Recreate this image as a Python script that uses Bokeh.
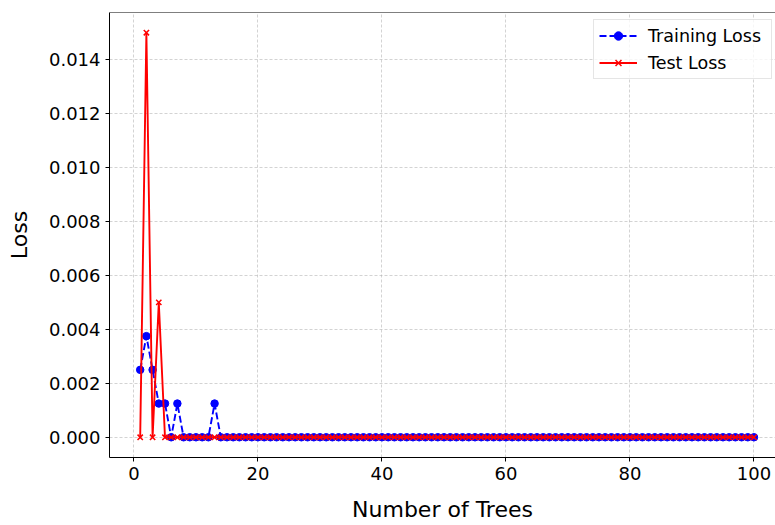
from bokeh.plotting import figure
from bokeh.models import (Range1d, FixedTicker, NumeralTickFormatter, Legend, LegendItem, Span)
from bokeh.embed import file_html
from bokeh.resources import INLINE

# ---- data ----
n_trees = list(range(1, 101))
train_loss = [0.0025, 0.00375, 0.0025, 0.00125, 0.00125, 0.0, 0.00125, 0.0, 0.0, 0.0,
              0.0, 0.0, 0.00125] + [0.0] * 87
test_loss = [0.0, 0.015, 0.0, 0.005, 0.0] + [0.0] * 95
x_ticks = [0, 20, 40, 60, 80, 100]
y_ticks = [0.0, 0.002, 0.004, 0.006, 0.008, 0.010, 0.012, 0.014]

FONT = "DejaVu Sans"

p = figure(width=775, height=525, output_backend="svg", toolbar_location=None,
           x_range=Range1d(-3.95, 103.47), y_range=Range1d(-0.00075, 0.01575),
           min_border_left=109, min_border_right=0, min_border_top=12, min_border_bottom=68)

p.outline_line_color = None
p.background_fill_color = "white"
p.border_fill_color = "white"

# grid
for g in (p.xgrid, p.ygrid):
    g.grid_line_color = "#b0b0b0"
    g.grid_line_alpha = 0.7
    g.grid_line_dash = "3 2"
    g.grid_line_width = 0.8

# axes
p.xaxis.ticker = FixedTicker(ticks=x_ticks)
p.yaxis.ticker = FixedTicker(ticks=y_ticks)
p.yaxis.formatter = NumeralTickFormatter(format="0.000")
for ax in (p.xaxis, p.yaxis):
    ax.axis_line_color = "black"
    ax.axis_line_width = 1
    ax.major_tick_line_color = "black"
    ax.major_tick_out = 4
    ax.major_tick_in = 0
    ax.minor_tick_line_color = None
    ax.major_label_standoff = 5
    ax.major_label_text_font = FONT
    ax.major_label_text_font_size = "18px"
    ax.major_label_text_color = "black"
    ax.axis_label_text_font = FONT
    ax.axis_label_text_font_size = "22px"
    ax.axis_label_text_font_style = "normal"
    ax.axis_label_text_color = "black"
p.xaxis.axis_label = "Number of Trees"
p.yaxis.axis_label = "Loss"
p.xaxis.axis_label_standoff = 14
p.yaxis.axis_label_standoff = 14

# top spine
p.add_layout(Span(location=0.01575, dimension="width", line_color="black", line_width=1))

# series
tr_line = p.line(n_trees, train_loss, line_color="blue", line_width=1.9, line_dash="7 3")
tr_pts = p.scatter(n_trees, train_loss, marker="circle", size=7.5, fill_color="blue",
                   line_color="blue")
te_line = p.line(n_trees, test_loss, line_color="red", line_width=1.9)
te_pts = p.scatter(n_trees, test_loss, marker="x", size=7.5, line_color="red", line_width=1.5)

legend = Legend(items=[LegendItem(label="Training Loss", renderers=[tr_line, tr_pts]),
                       LegendItem(label="Test Loss", renderers=[te_line, te_pts])],
                location=(484, 378))
legend.label_text_font = FONT
legend.label_text_font_size = "17.5px"
legend.label_text_color = "black"
legend.label_width = 118
legend.glyph_width = 38
legend.glyph_height = 21
legend.label_height = 21
legend.label_standoff = 11
legend.spacing = 6
legend.padding = 5
legend.margin = 0
legend.border_line_color = "#cccccc"
legend.border_line_width = 1
legend.background_fill_alpha = 0.8
p.add_layout(legend)

open("out.html", "w").write(file_html(p, INLINE))
